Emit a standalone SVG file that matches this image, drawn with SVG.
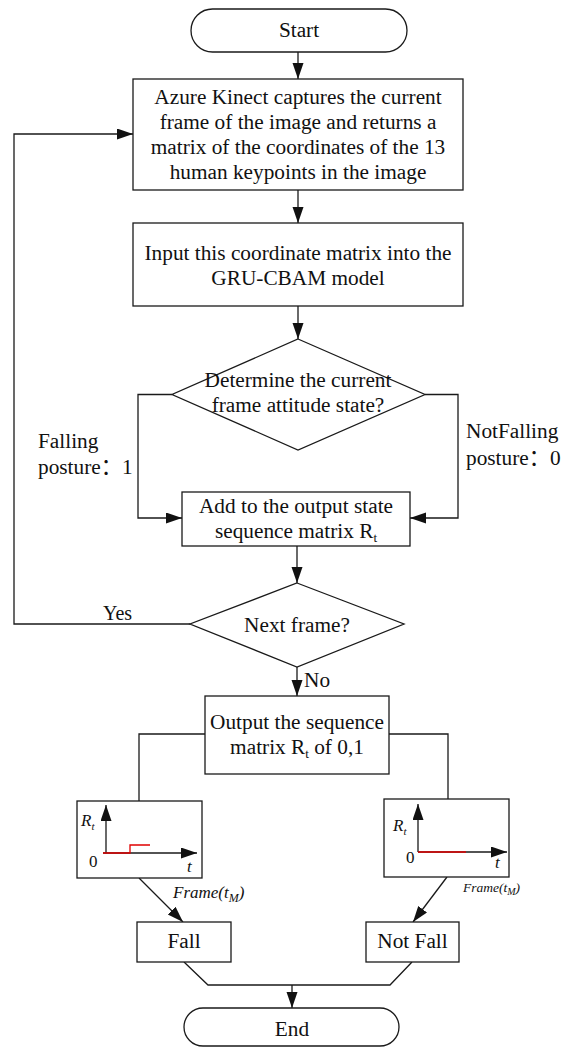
<svg xmlns="http://www.w3.org/2000/svg" width="562" height="1048" viewBox="0 0 562 1048">
<defs>
<marker id="ah" markerUnits="userSpaceOnUse" markerWidth="17" markerHeight="12" refX="16" refY="5.5" orient="auto">
<path d="M0,0 L16,5.5 L0,11 z" fill="#111"/>
</marker>
<style>
.box{fill:#fff;stroke:#1a1a1a;stroke-width:1.3}
.ln{fill:none;stroke:#1a1a1a;stroke-width:1.3}
.arr{fill:none;stroke:#1a1a1a;stroke-width:1.3;marker-end:url(#ah)}
.red{fill:none;stroke:#e00000;stroke-width:1.3}
.t{font-family:"Liberation Serif","Noto Sans CJK SC",serif;font-size:21.3px;fill:#111}
.c{text-anchor:middle}
.i{font-style:italic}
.s17{font-size:17px}
.s20{font-size:20px}
.s13{font-size:13.5px}
</style>
</defs>
<rect width="562" height="1048" fill="#fff"/>

<g id="connectors">
<path class="arr" d="M298,52 V79"/>
<path class="arr" d="M298,190 V223"/>
<path class="arr" d="M298,306 V339"/>
<path class="arr" d="M172,394.5 H138 V518 H182"/>
<path class="arr" d="M425,394.5 H458 V518 H410"/>
<path class="arr" d="M297,546 V583"/>
<path class="arr" d="M297,667 V696"/>
<path class="arr" d="M190,624 H14 V134 H133"/>
<path class="ln" d="M205,734 H139 V801"/>
<path class="ln" d="M389,734 H448 V799"/>
<path class="arr" d="M139,878 L183,922"/>
<path class="arr" d="M447,877 L413,922"/>
<path class="ln" d="M184,962 L208,985 H390 L412,962"/>
<path class="arr" d="M292,985 V1008"/>
<text class="t s20" x="103" y="620">Yes</text>
<text class="t" x="304" y="687">No</text>
<text class="t" x="38" y="448">Falling</text>
<text class="t" x="38" y="474">posture：1</text>
<text class="t" x="466" y="438">NotFalling</text>
<text class="t" x="466" y="465">posture：0</text>
<text class="t i s17" x="173" y="898">Frame(t<tspan style="font-size:12px" dy="4">M</tspan><tspan dy="-4">)</tspan></text>
<text class="t i s13" x="463" y="892">Frame(t<tspan style="font-size:10px" dy="3">M</tspan><tspan dy="-3">)</tspan></text>
</g>

<g id="start">
<rect class="box" x="191" y="9" width="216" height="43" rx="21.5"/>
<text class="t c" x="299" y="37">Start</text>
</g>

<g id="capture">
<rect class="box" x="133" y="79" width="330" height="111"/>
<text class="t c" x="298" y="104">Azure Kinect captures the current</text>
<text class="t c" x="298" y="129">frame of the image and returns a</text>
<text class="t c" x="298" y="154">matrix of the coordinates of the 13</text>
<text class="t c" x="298" y="179">human keypoints in the image</text>
</g>

<g id="input">
<rect class="box" x="133" y="223" width="330" height="83"/>
<text class="t c" x="298" y="260">Input this coordinate matrix into the</text>
<text class="t c" x="298" y="285">GRU-CBAM model</text>
</g>

<g id="determine">
<polygon class="box" points="298,339 425,394.5 298,450 172,394.5"/>
<text class="t c" x="298" y="387">Determine the current</text>
<text class="t c" x="298" y="412">frame attitude state?</text>
</g>

<g id="add">
<rect class="box" x="182" y="492" width="228" height="54"/>
<text class="t c" x="296" y="513">Add to the output state</text>
<text class="t c" x="296" y="538">sequence matrix R<tspan style="font-size:13px" dy="4">t</tspan></text>
</g>

<g id="next">
<polygon class="box" points="297,583 404,624 297,667 190,624"/>
<text class="t c" x="297" y="632">Next frame?</text>
</g>

<g id="output">
<rect class="box" x="205" y="696" width="184" height="78"/>
<text class="t c" x="297" y="729">Output the sequence</text>
<text class="t c" x="297" y="754">matrix R<tspan style="font-size:13px" dy="4">t</tspan><tspan dy="-4"> of 0,1</tspan></text>
</g>

<g id="graph-fall">
<rect class="box" x="77" y="801" width="125" height="77"/>
<path class="arr" d="M106,853 V805"/>
<path class="arr" d="M103,853 H197"/>
<path class="red" d="M103,853 H130 V845 H150"/>
<text class="t i s17" x="81" y="826">R<tspan style="font-size:11px" dy="4">t</tspan></text>
<text class="t s17" x="89" y="867">0</text>
<text class="t i s17" x="187" y="872">t</text>
</g>

<g id="graph-notfall">
<rect class="box" x="384" y="799" width="125" height="78"/>
<path class="arr" d="M418,852 V804"/>
<path class="arr" d="M418,852 H507"/>
<path class="red" d="M418,852 H466"/>
<text class="t i s17" x="393" y="831">R<tspan style="font-size:11px" dy="4">t</tspan></text>
<text class="t s17" x="406" y="863">0</text>
<text class="t i s17" x="495" y="868">t</text>
</g>

<g id="fall">
<rect class="box" x="137" y="922" width="94" height="40"/>
<text class="t c" x="184" y="948">Fall</text>
</g>

<g id="notfall">
<rect class="box" x="366" y="922" width="93" height="40"/>
<text class="t c" x="412.5" y="948">Not Fall</text>
</g>

<g id="end">
<rect class="box" x="184" y="1008" width="215" height="38" rx="19"/>
<text class="t c" x="292" y="1036">End</text>
</g>
</svg>
